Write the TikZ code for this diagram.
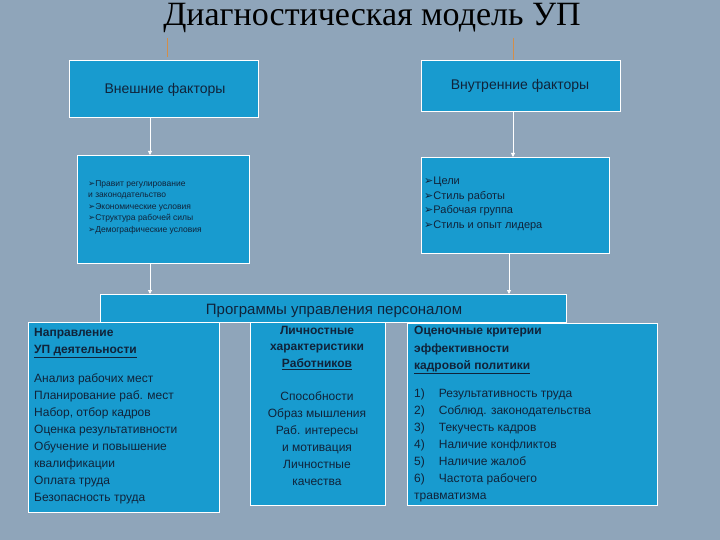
\documentclass[tikz,border=0pt]{standalone}
\usepackage{fontspec}
\setmainfont{Liberation Sans}
\newfontfamily\titlefont{Liberation Serif}
\newfontfamily\symfont{DejaVu Sans}
\newcommand{\arr}{{\symfont ➢}}
\usetikzlibrary{arrows.meta}
\definecolor{bg}{HTML}{8FA5BA}
\definecolor{boxc}{HTML}{189BCF}
\definecolor{txt}{HTML}{10233A}
\begin{document}
\begin{tikzpicture}[x=1pt,y=-1pt,
  box/.style={draw=white,line width=0.8pt,fill=boxc,inner sep=0pt},
  lbl/.style={text=txt,inner sep=0pt,align=left},
  conn/.style={white,line width=0.8pt,-{Triangle[length=4pt,width=4pt]}},
  tick/.style={draw=orange!60!bg,line width=0.8pt}]
\fill[bg] (0,0) rectangle (720,540);
\useasboundingbox (0,0) rectangle (720,540);
\node[text=black,font=\titlefont\fontsize{34}{34}\selectfont,inner sep=0pt] (title) at (372,18) {Диагностическая модель УП};
\coordinate (t1a) at (167,38); \coordinate (t1b) at (167,57);
\coordinate (t2a) at (513,38); \coordinate (t2b) at (513,70);
\draw[tick] (t1a) -- (t1b);
\draw[tick] (t2a) -- (t2b);
% top boxes
\node[box,minimum width=189pt,minimum height=57pt,anchor=north west] (ext) at (69,60) {};
\node[lbl,font=\fontsize{14}{16}\selectfont] at (165,90) {Внешние факторы};
\node[box,minimum width=199pt,minimum height=51pt,anchor=north west] (int) at (421,60) {};
\node[lbl,font=\fontsize{14}{16}\selectfont] at (520,86) {Внутренние факторы};
% list boxes
\node[box,minimum width=172pt,minimum height=108pt,anchor=north west] (extl) at (77,155) {};
\node[lbl,anchor=north west,font=\fontsize{8.5}{11.5}\selectfont] at (88,180) {\arr Правит регулирование\\ и законодательство\\\arr Экономические условия\\\arr Структура рабочей силы\\\arr Демографические условия};
\node[box,minimum width=188pt,minimum height=96pt,anchor=north west] (intl) at (421,157) {};
\node[lbl,anchor=north west,font=\fontsize{11}{14.5}\selectfont] at (424,177) {\arr Цели\\\arr Стиль работы\\\arr Рабочая группа\\\arr Стиль и опыт лидера};
% middle bottom box (behind program box)
\node[box,minimum width=135pt,minimum height=195pt,anchor=north west] (b2) at (250,310) {};
% program box
\node[box,minimum width=466pt,minimum height=28pt,anchor=north west] (prog) at (100,294) {};
\node[lbl,font=\fontsize{15}{17}\selectfont] at (334,311) {Программы управления персоналом};
\node[lbl,anchor=north,align=center,font=\fontsize{12}{16.5}\selectfont] at (317,326) {\textbf{Личностные}\\\textbf{характеристики}\\\textbf{\underline{Работников}}};
\node[lbl,anchor=north,align=center,font=\fontsize{12}{17}\selectfont] at (317,391) {Способности\\Образ мышления\\Раб. интересы\\ и мотивация\\Личностные\\качества};
% bottom boxes
\node[box,minimum width=191pt,minimum height=190pt,anchor=north west] (b1) at (28,322) {};
\node[lbl,anchor=north west,font=\fontsize{12}{17}\selectfont] at (34,328) {\textbf{Направление}\\\textbf{\underline{УП деятельности}}\\[12pt]Анализ рабочих мест\\Планирование раб. мест\\Набор, отбор кадров\\Оценка результативности\\Обучение и повышение\\ квалификации\\Оплата труда\\Безопасность труда};
\node[box,minimum width=250pt,minimum height=182pt,anchor=north west] (b3) at (407,323) {};
\node[lbl,anchor=north west,font=\fontsize{12}{17.5}\selectfont] at (414,326) {\textbf{Оценочные критерии}\\\textbf{эффективности}\\\textbf{\underline{кадровой политики}}};
\node[lbl,anchor=north west,font=\fontsize{12}{17}\selectfont] at (414,389) {1)\hspace{14pt}Результативность труда\\2)\hspace{14pt}Соблюд. законодательства\\3)\hspace{14pt}Текучесть кадров\\4)\hspace{14pt}Наличие конфликтов\\5)\hspace{14pt}Наличие жалоб\\6)\hspace{14pt}Частота рабочего\\травматизма};
% connectors
\draw[conn] (ext.south -| 150,0) -- (extl.north -| 150,0);
\draw[conn] (extl.south -| 150,0) -- (prog.north -| 150,0);
\draw[conn] (int.south -| 513,0) -- (intl.north -| 513,0);
\draw[conn] (intl.south -| 509,0) -- (prog.north -| 509,0);
\end{tikzpicture}
\end{document}
